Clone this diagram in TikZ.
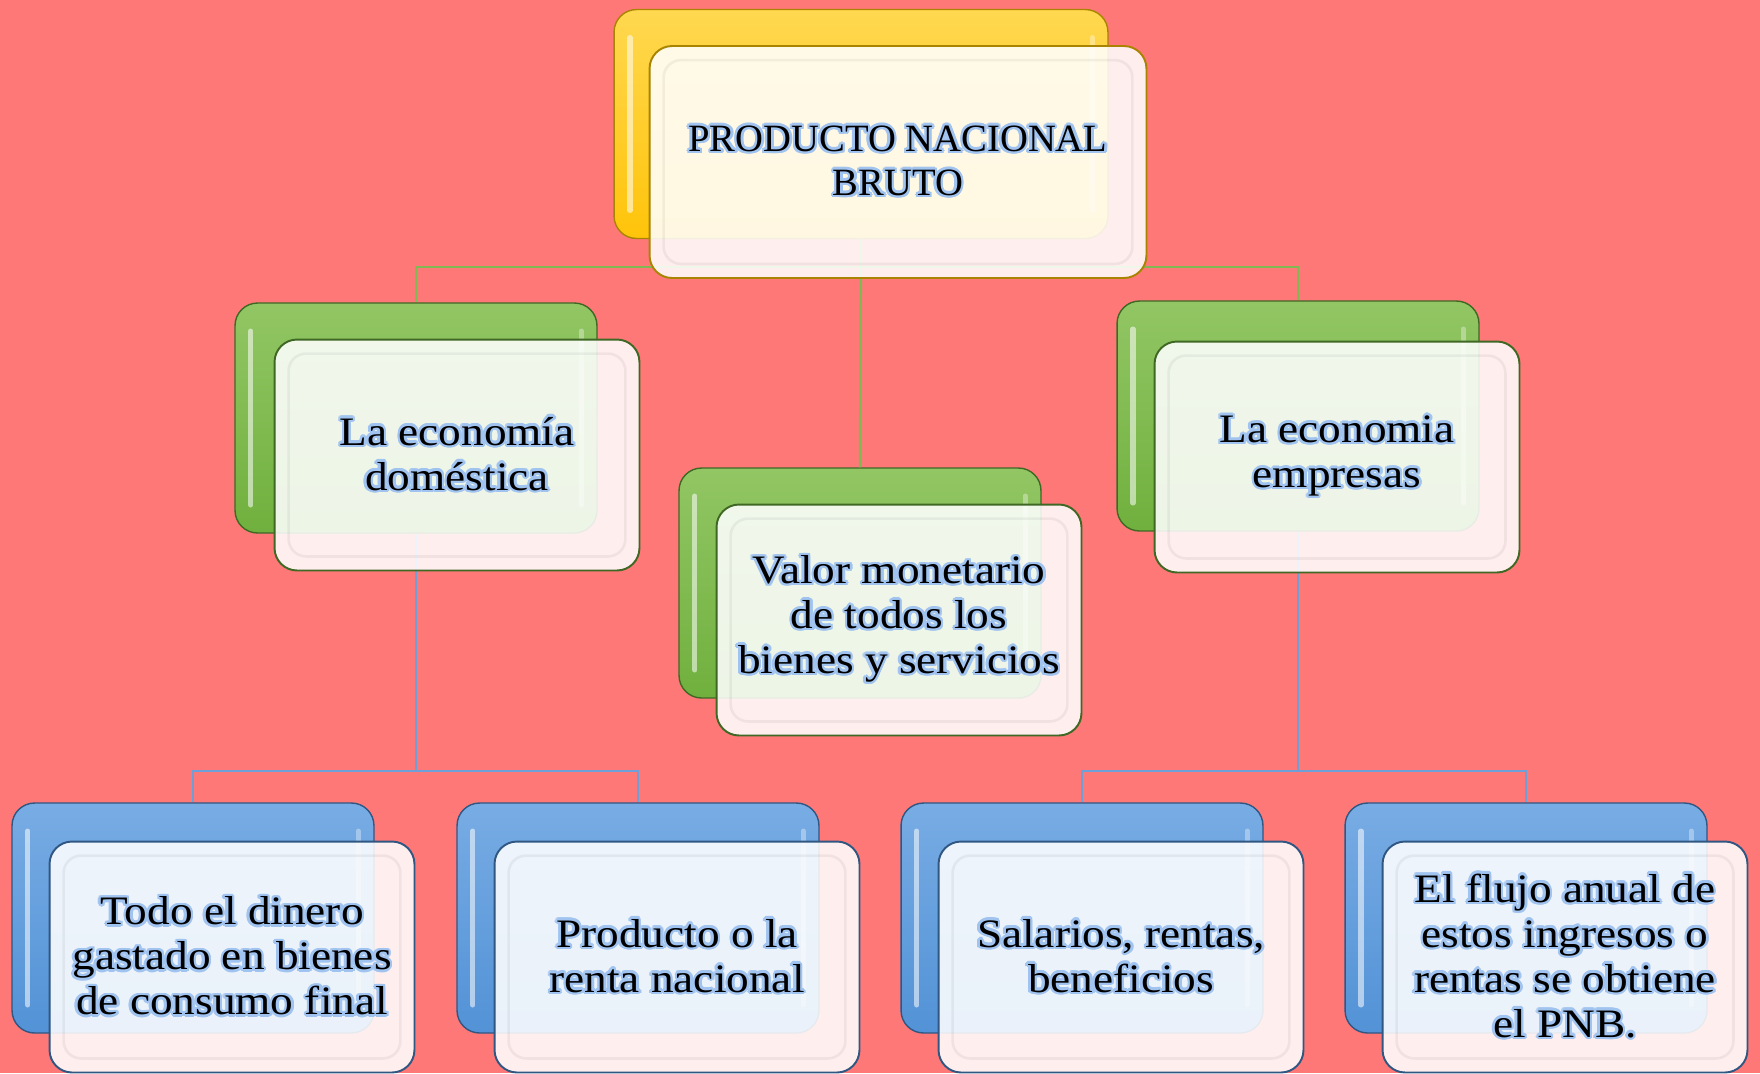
\documentclass[tikz,border=0pt]{standalone}
\usepackage{fontspec}
\setmainfont{Liberation Serif}
\newfontfamily\boxfont[FakeStretch=1.12]{Liberation Serif}
\usepackage{contour}
\contourlength{1.4pt}
\contournumber{16}
\definecolor{bgpink}{RGB}{255,120,120}
\definecolor{glowblue}{RGB}{160,195,240}
\definecolor{ytop}{RGB}{255,216,80}
\definecolor{ybot}{RGB}{255,196,10}
\definecolor{yline}{RGB}{168,132,0}
\definecolor{gtop}{RGB}{146,198,100}
\definecolor{gbot}{RGB}{112,176,62}
\definecolor{gline}{RGB}{62,104,36}
\definecolor{btop}{RGB}{120,172,228}
\definecolor{bbot}{RGB}{82,146,214}
\definecolor{bline}{RGB}{48,86,130}
\definecolor{gconn}{RGB}{128,184,84}
\definecolor{bconn}{RGB}{110,160,215}
\newcommand{\glow}[1]{\contour{glowblue}{#1}}

\begin{document}
\begin{tikzpicture}[x=0.02cm,y=-0.02cm,
		back/.style={rounded corners=0.45cm,minimum width=7.24cm,minimum height=4.6cm,
			inner sep=0pt,line width=0.8pt,
			path picture={\draw[white,opacity=0.55,line width=3pt,line cap=round]
				([shift={(9pt,-16pt)}]path picture bounding box.north west) --
				([shift={(9pt,16pt)}]path picture bounding box.south west);
				\draw[white,opacity=0.35,line width=3pt,line cap=round]
				([shift={(-9pt,-16pt)}]path picture bounding box.north east) --
				([shift={(-9pt,16pt)}]path picture bounding box.south east);}},
		front/.style={rounded corners=0.45cm,minimum width=7.3cm,minimum height=4.62cm,
			fill=white,fill opacity=0.88,text opacity=1,line width=1.1pt,align=center,
			font=\boxfont\fontsize{23}{25.6}\selectfont,
			path picture={\draw[black,opacity=0.05,line width=1.5pt,rounded corners=0.35cm]
				([shift={(8pt,-8pt)}]path picture bounding box.north west) rectangle
				([shift={(-8pt,8pt)}]path picture bounding box.south east);}},
		yback/.style={back,draw=yline,top color=ytop,bottom color=ybot},
		gback/.style={back,draw=gline,top color=gtop,bottom color=gbot},
		bback/.style={back,draw=bline,top color=btop,bottom color=bbot},
		conn/.style={line width=1.4pt}]
	\clip (0,0) rectangle (1760,1073);
	\fill[bgpink] (0,0) rectangle (1760,1073);
	% back boxes
	\node[yback,minimum width=9.88cm,minimum height=4.58cm] (P) at (861,124) {};
	\node[gback] (D) at (416,418) {};
	\node[gback] (V) at (860,583) {};
	\node[gback] (E) at (1298,416) {};
	\node[bback] (T) at (193,918) {};
	\node[bback] (R) at (638,918) {};
	\node[bback] (S) at (1082,918) {};
	\node[bback] (F) at (1526,918) {};
	% connectors
	\coordinate (J) at (861,267);
	\coordinate (JD) at (416,771);
	\coordinate (JE) at (1298,771);
	\draw[conn,gconn] (P.south) -- (V.north);
	\draw[conn,gconn] (D.north) |- (J) -| (E.north);
	\draw[conn,bconn] (D.south) -- (JD);
	\draw[conn,bconn] (T.north) |- (JD) -| (R.north);
	\draw[conn,bconn] (E.south) -- (JE);
	\draw[conn,bconn] (S.north) |- (JE) -| (F.north);
	% front boxes
	\node[front,draw=yline,minimum width=9.94cm,minimum height=4.64cm,
		font=\fontsize{22}{25}\selectfont] (P1) at ([shift={(37,38)}]P)
		{\glow{PRODUCTO NACIONAL}\\\glow{BRUTO}};
	\node[front,draw=gline] (D1) at ([shift={(41,37)}]D)
		{\glow{La economía}\\\glow{doméstica}};
	\node[front,draw=gline] (V1) at ([shift={(39,37)}]V)
		{\glow{Valor monetario}\\\glow{de todos los}\\\glow{bienes y servicios}};
	\node[front,draw=gline] (E1) at ([shift={(39,41)}]E)
		{\glow{La economia}\\\glow{empresas}};
	\node[front,draw=bline] (T1) at ([shift={(39,39)}]T)
		{\glow{Todo el dinero}\\\glow{gastado en bienes}\\\glow{de consumo final}};
	\node[front,draw=bline] (R1) at ([shift={(39,39)}]R)
		{\glow{Producto o la}\\\glow{renta nacional}};
	\node[front,draw=bline] (S1) at ([shift={(39,39)}]S)
		{\glow{Salarios, rentas,}\\\glow{beneficios}};
	\node[front,draw=bline] (F1) at ([shift={(39,39)}]F)
		{\glow{El flujo anual de}\\\glow{estos ingresos o}\\\glow{rentas se obtiene}\\\glow{el PNB.}};
\end{tikzpicture}
\end{document}
